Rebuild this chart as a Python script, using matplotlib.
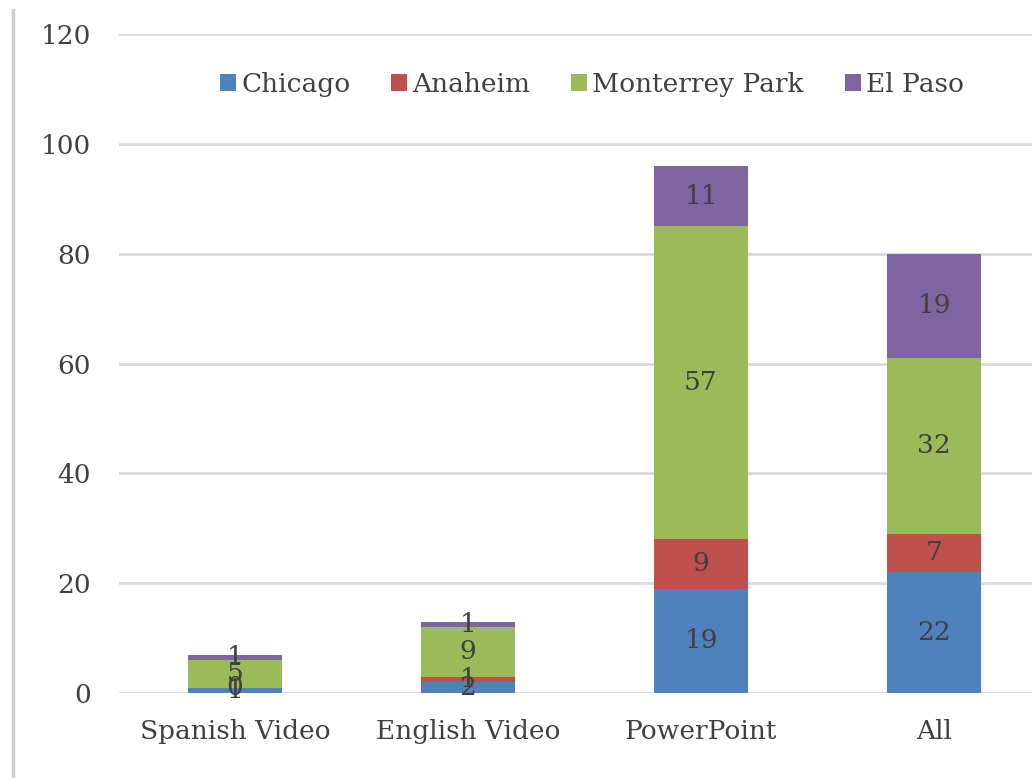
import matplotlib
matplotlib.use("Agg")
import matplotlib.pyplot as plt
from matplotlib.lines import Line2D
import numpy as np

categories = ["Spanish Video", "English Video", "PowerPoint", "All"]
series_names = ["Chicago", "Anaheim", "Monterrey Park", "El Paso"]
chicago = [1, 2, 19, 22]
anaheim = [0, 1, 9, 7]
monterrey = [5, 9, 57, 32]
el_paso = [1, 1, 11, 19]
colors = ["#4F81BD", "#C0504D", "#9BBB59", "#8064A2"]
yticks = [0, 20, 40, 60, 80, 100, 120]

plt.rcParams['font.family'] = ['DejaVu Serif']
text_color = "#404040"
fs = 19

fig = plt.figure(figsize=(10.32, 7.78), dpi=100)
ax = fig.add_axes([118.5/1032, 85/778, 932/1032, 659/778])

x = np.arange(len(categories))
bottom = np.zeros(len(categories))
for name, vals, c in zip(series_names, [chicago, anaheim, monterrey, el_paso], colors):
    ax.bar(x, vals, 0.4, bottom=bottom, color=c, label=name, zorder=3)
    for xi, b, v in zip(x, bottom, vals):
        ax.text(xi, b + v / 2, str(v), ha="center", va="center", fontsize=fs,
                color=text_color, zorder=4)
    bottom = bottom + np.array(vals)

ax.set_xlim(-0.5, 3.5)
ax.set_ylim(0, 120)
ax.set_yticks(yticks)
ax.set_xticks(x)
ax.set_xticklabels(categories)
ax.tick_params(axis="both", length=0, labelsize=fs, labelcolor=text_color)
ax.tick_params(axis="y", pad=20)
ax.tick_params(axis="x", pad=19)
ax.yaxis.grid(True, color="#D9D9D9", linewidth=2, zorder=0)
ax.set_axisbelow(True)
for s in ax.spines.values():
    s.set_visible(False)

ax.legend(loc="center", bbox_to_anchor=(0.508, 0.924), ncol=4, frameon=False,
          fontsize=fs, handlelength=0.6, handleheight=0.6, handletextpad=0.2,
          columnspacing=1.55, labelcolor=text_color)

fig.add_artist(Line2D([13/1032, 13/1032], [0, 768/778], color="#D0D0D0", linewidth=2.5))

fig.savefig("out.png", dpi=100)
